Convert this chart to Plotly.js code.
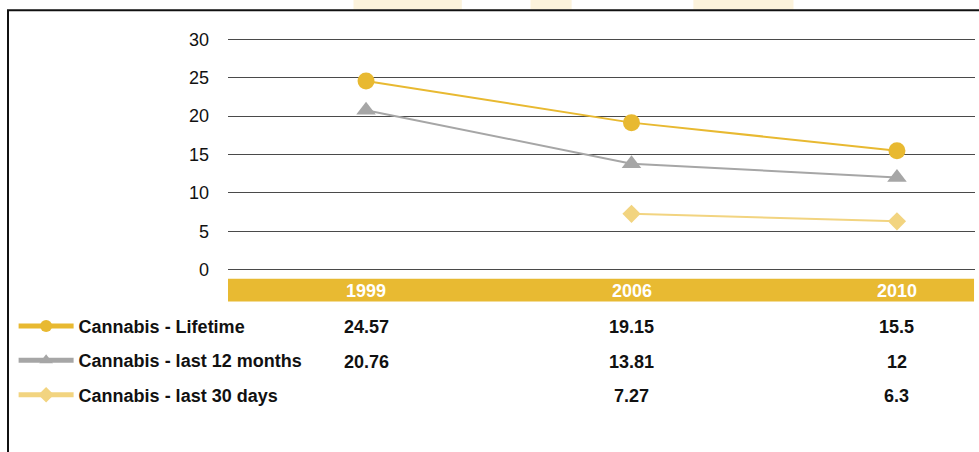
<!DOCTYPE html>
<html>
<head>
<meta charset="utf-8">
<script src="https://cdn.plot.ly/plotly-3.0.1.min.js"></script>
<style>
  html, body { margin: 0; padding: 0; background: #fff; }
  #chart { width: 979px; height: 452px; }
</style>
</head>
<body>
<div id="chart"></div>
<script>
var years = ["1999", "2006", "2010"];
var lifetime = [24.57, 19.15, 15.5];
var last12 = [20.76, 13.81, 12];
var last30 = [null, 7.27, 6.3];
var seriesNames = ["Cannabis - Lifetime", "Cannabis - last 12 months", "Cannabis - last 30 days"];
var yTicks = [0, 5, 10, 15, 20, 25, 30];

var gold = "#E8B931";
var grey = "#A6A6A6";
var paleGold = "#F2D480";

// paper y of each table row (below the plot)
var rowY = [-0.236, -0.383, -0.529];
var fontFam = "Liberation Sans, Arial, sans-serif";

function makeTrace(vals, name, color, symbol, size, group) {
  return {
    x: years,
    y: vals,
    name: name,
    legendgroup: group,
    mode: "lines+markers",
    line: {color: color, width: 2},
    marker: {color: color, symbol: symbol, size: size},
    connectgaps: false
  };
}

var data = [
  makeTrace(lifetime, seriesNames[0], gold, "circle", 17, "a"),
  makeTrace(last12, seriesNames[1], grey, "triangle-up", 17, "b"),
  makeTrace(last30, seriesNames[2], paleGold, "diamond", 14, "c")
];

var annotations = [];
// year labels on the gold band
years.forEach(function(yr, i) {
  annotations.push({
    x: i, y: -0.0793, xref: "x", yref: "paper", yanchor: "middle",
    text: "<b>" + yr + "</b>", showarrow: false,
    font: {family: fontFam, size: 18, color: "#ffffff"}
  });
});
// values table
[lifetime, last12, last30].forEach(function(vals, r) {
  vals.forEach(function(v, i) {
    if (v === null) return;
    annotations.push({
      x: i, y: rowY[r], xref: "x", yref: "paper", yanchor: "middle",
      text: "<b>" + v + "</b>", showarrow: false,
      font: {family: fontFam, size: 18, color: "#111111"}
    });
  });
});

var shapes = [
  // gold band behind the year labels
  {type: "rect", xref: "paper", yref: "paper", x0: 0, x1: 0.9987, y0: -0.126, y1: -0.0284,
   fillcolor: "#E8BA32", line: {width: 0}, layer: "below"},
  // outer frame
  {type: "rect", xref: "paper", yref: "paper", x0: -0.2945, x1: 1.2, y0: -1.2, y1: 1.1133,
   line: {color: "#111", width: 2}, fillcolor: "rgba(0,0,0,0)"},
  // faint watermark bits along the top edge
  {type: "rect", xref: "paper", yref: "paper", x0: 0.168, x1: 0.313, y0: 1.1175, y1: 1.16,
   fillcolor: "#FCF3DC", line: {width: 0}, layer: "below"},
  {type: "rect", xref: "paper", yref: "paper", x0: 0.405, x1: 0.46, y0: 1.1175, y1: 1.16,
   fillcolor: "#FCF3DC", line: {width: 0}, layer: "below"},
  {type: "rect", xref: "paper", yref: "paper", x0: 0.623, x1: 0.757, y0: 1.1175, y1: 1.16,
   fillcolor: "#FCF3DC", line: {width: 0}, layer: "below"}
];

var layout = {
  width: 979,
  height: 452,
  margin: {l: 228, r: 4, t: 36.7, b: 179.7},
  paper_bgcolor: "#fff",
  plot_bgcolor: "#fff",
  font: {family: fontFam, size: 18, color: "#111"},
  showlegend: true,
  legend: {
    x: -0.287, xanchor: "left",
    y: -0.152, yanchor: "top",
    orientation: "v",
    tracegroupgap: 8,
    itemwidth: 55,
    itemsizing: "constant",
    font: {family: fontFam, size: 18, color: "#111", weight: "bold"},
    bgcolor: "rgba(0,0,0,0)"
  },
  xaxis: {
    type: "category",
    range: [-0.52, 2.294],
    showticklabels: false,
    showgrid: false,
    zeroline: false,
    showline: false,
    fixedrange: true
  },
  yaxis: {
    range: [-0.3, 30.3],
    tickvals: yTicks,
    ticktext: yTicks.map(String),
    showgrid: true,
    gridcolor: "#4a4a4a",
    gridwidth: 1,
    zeroline: false,
    showline: false,
    ticks: "",
    ticklabelstandoff: 18,
    tickfont: {size: 18, color: "#111"},
    fixedrange: true
  },
  annotations: annotations,
  shapes: shapes
};

Plotly.newPlot("chart", data, layout, {displayModeBar: false, staticPlot: true});
</script>
</body>
</html>
